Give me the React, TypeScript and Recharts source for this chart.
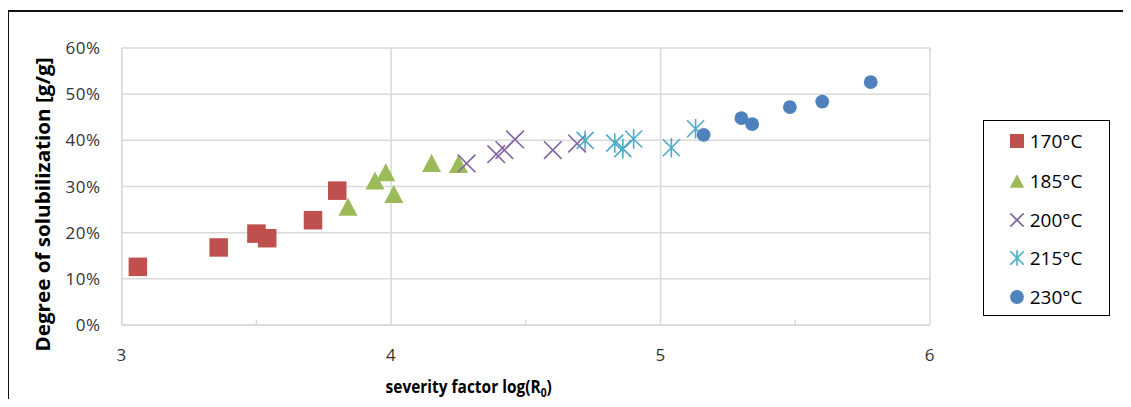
import React from 'react';
import { ScatterChart, Scatter, XAxis, YAxis, CartesianGrid, Legend, ReferenceLine, Label } from 'recharts';

const xTicks = [3, 4, 5, 6];
const minorXTicks = [3.5, 4.5, 5.5];
const yTicks = [0, 10, 20, 30, 40, 50, 60];

const x170 = [3.06, 3.36, 3.5, 3.54, 3.71, 3.8];
const y170 = [12.6, 16.8, 19.8, 18.8, 22.7, 29.1];
const x185 = [3.84, 3.94, 3.98, 4.01, 4.15, 4.25];
const y185 = [25.6, 31.3, 33.1, 28.4, 35.1, 34.9];
const x200 = [4.28, 4.39, 4.42, 4.46, 4.6, 4.69];
const y200 = [35.0, 37.0, 37.9, 40.2, 37.9, 39.3];
const x215 = [4.72, 4.83, 4.86, 4.9, 5.04, 5.13];
const y215 = [40.0, 39.4, 38.2, 40.3, 38.4, 42.5];
const x230 = [5.16, 5.3, 5.34, 5.48, 5.6, 5.78];
const y230 = [41.2, 44.8, 43.5, 47.2, 48.4, 52.6];

const seriesNames = ['170°C', '185°C', '200°C', '215°C', '230°C'];
const seriesColors = ['#C0504D', '#9BBB59', '#8064A2', '#4BACC6', '#4F81BD'];
const seriesShapes = ['square', 'triangle', 'x', 'star', 'circle'];
const legendScales = [0.76, 0.76, 0.76, 0.8, 1.0];

const toPoints = (xs: number[], ys: number[]) => xs.map((x, i) => ({ x, y: ys[i] }));
const seriesData = [
  toPoints(x170, y170),
  toPoints(x185, y185),
  toPoints(x200, y200),
  toPoints(x215, y215),
  toPoints(x230, y230),
];

const FONT = '"Open Sans", sans-serif';

function Marker({ kind, cx, cy, color, scale = 1 }: { kind: string; cx: number; cy: number; color: string; scale?: number }) {
  if (kind === 'square') {
    const s = 18.5 * scale;
    return <rect x={cx - s / 2} y={cy - s / 2} width={s} height={s} fill={color} />;
  }
  if (kind === 'triangle') {
    const w = 19 * scale;
    const h = 18 * scale;
    return <polygon points={`${cx},${cy - h / 2} ${cx + w / 2},${cy + h / 2} ${cx - w / 2},${cy + h / 2}`} fill={color} />;
  }
  if (kind === 'x') {
    const r = 8.8 * scale;
    return (
      <g stroke={color} strokeWidth={1.6}>
        <line x1={cx - r} y1={cy - r} x2={cx + r} y2={cy + r} />
        <line x1={cx - r} y1={cy + r} x2={cx + r} y2={cy - r} />
      </g>
    );
  }
  if (kind === 'star') {
    const r = 8.5 * scale;
    return (
      <g stroke={color} strokeWidth={1.6}>
        <line x1={cx - r} y1={cy - r} x2={cx + r} y2={cy + r} />
        <line x1={cx - r} y1={cy + r} x2={cx + r} y2={cy - r} />
        <line x1={cx} y1={cy - r * 1.15} x2={cx} y2={cy + r * 1.15} />
      </g>
    );
  }
  return <circle cx={cx} cy={cy} r={6.9 * scale} fill={color} />;
}

const makeShape = (kind: string, color: string) => (props: any) => (
  <Marker kind={kind} cx={props.cx} cy={props.cy} color={color} />
);

const legendRows = [20, 60, 99, 137, 176];

function LegendBox() {
  return (
    <div
      style={{
        position: 'relative',
        width: 127,
        height: 196,
        border: '1.5px solid #000',
        boxSizing: 'border-box',
        background: '#fff',
        fontFamily: FONT,
      }}
    >
      {seriesNames.map((name, i) => (
        <div key={name} style={{ position: 'absolute', left: 0, top: legendRows[i] - 13, height: 26, width: 125 }}>
          <svg width={20} height={20} style={{ position: 'absolute', left: 23, top: 3 }}>
            <Marker kind={seriesShapes[i]} cx={10} cy={10} color={seriesColors[i]} scale={legendScales[i]} />
          </svg>
          <span
            style={{
              position: 'absolute',
              left: 46,
              top: 0,
              lineHeight: '26px',
              fontSize: 19,
              color: '#000',
              whiteSpace: 'nowrap',
            }}
          >
            {name}
          </span>
        </div>
      ))}
    </div>
  );
}

export default function App() {
  return (
    <div style={{ position: 'relative', width: 1123, height: 391 }}>
      <div
        style={{
          position: 'absolute',
          left: -1,
          top: 2,
          width: 1124,
          height: 397,
          borderLeft: '2px solid #111',
          borderTop: '2px solid #111',
          boxSizing: 'border-box',
        }}
      />
      <div style={{ position: 'absolute', left: 0, top: 0 }}>
        <ScatterChart width={1123} height={399} margin={{ top: 40, right: 201, bottom: 22, left: 0 }}>
          <CartesianGrid stroke="#d9d9d9" strokeWidth={1.5} />
          <XAxis
            type="number"
            dataKey="x"
            domain={[3, 6]}
            ticks={xTicks}
            interval={0}
            height={60}
            tickSize={0}
            tickMargin={24}
            tickLine={false}
            axisLine={{ stroke: '#d9d9d9', strokeWidth: 1.5 }}
            tick={{ fill: '#333333', fontSize: 17, fontFamily: FONT, letterSpacing: 0.6 }}
          >
            <Label
              content={(p: any) => {
                const vb = p.viewBox;
                return (
                  <g transform={`translate(${vb.x + 347} ${vb.y + 68}) scale(0.86 1)`}>
                    <text
                      x={0}
                      y={0}
                      textAnchor="middle"
                      fontFamily={FONT}
                      fontWeight="bold"
                      fontSize={18}
                      fill="#000"
                    >
                      severity factor log(R
                      <tspan fontSize={12} dy={4}>0</tspan>
                      <tspan dy={-4}>)</tspan>
                    </text>
                  </g>
                );
              }}
            />
          </XAxis>
          <YAxis
            type="number"
            dataKey="y"
            domain={[0, 60]}
            ticks={yTicks}
            interval={0}
            width={113.7}
            tickSize={0}
            tickMargin={21}
            tickLine={false}
            tickFormatter={(v: number) => `${v}%`}
            axisLine={{ stroke: '#d9d9d9', strokeWidth: 1.5 }}
            tick={{ fill: '#333333', fontSize: 17, fontFamily: FONT, letterSpacing: 0.6 }}
          >
            <Label
              content={(p: any) => {
                const vb = p.viewBox;
                const cx = vb.x + 34;
                const cy = vb.y + vb.height / 2 + 18;
                return (
                  <text
                    x={cx}
                    y={cy + 147}
                    transform={`rotate(-90 ${cx} ${cy + 147})`}
                    textLength={294}
                    lengthAdjust="spacingAndGlyphs"
                    dominantBaseline="central"
                    fontFamily={FONT}
                    fontWeight="bold"
                    fontSize={20}
                    fill="#000"
                  >
                    Degree of solubilization [g/g]
                  </text>
                );
              }}
            />
          </YAxis>
          {minorXTicks.map((t) => (
            <ReferenceLine
              key={t}
              segment={[{ x: t, y: 0 }, { x: t, y: 1.1 }]}
              stroke="#d9d9d9"
              strokeWidth={1.5}
            />
          ))}
          {seriesData.map((d, i) => (
            <Scatter
              key={seriesNames[i]}
              name={seriesNames[i]}
              data={d}
              fill={seriesColors[i]}
              shape={makeShape(seriesShapes[i], seriesColors[i])}
              isAnimationActive={false}
            />
          ))}
          <Legend
            layout="horizontal"
            align="center"
            verticalAlign="middle"
            wrapperStyle={{ position: 'absolute', left: 974.7, top: 112, width: 127, height: 196 }}
            content={() => <LegendBox />}
          />
        </ScatterChart>
      </div>
    </div>
  );
}
